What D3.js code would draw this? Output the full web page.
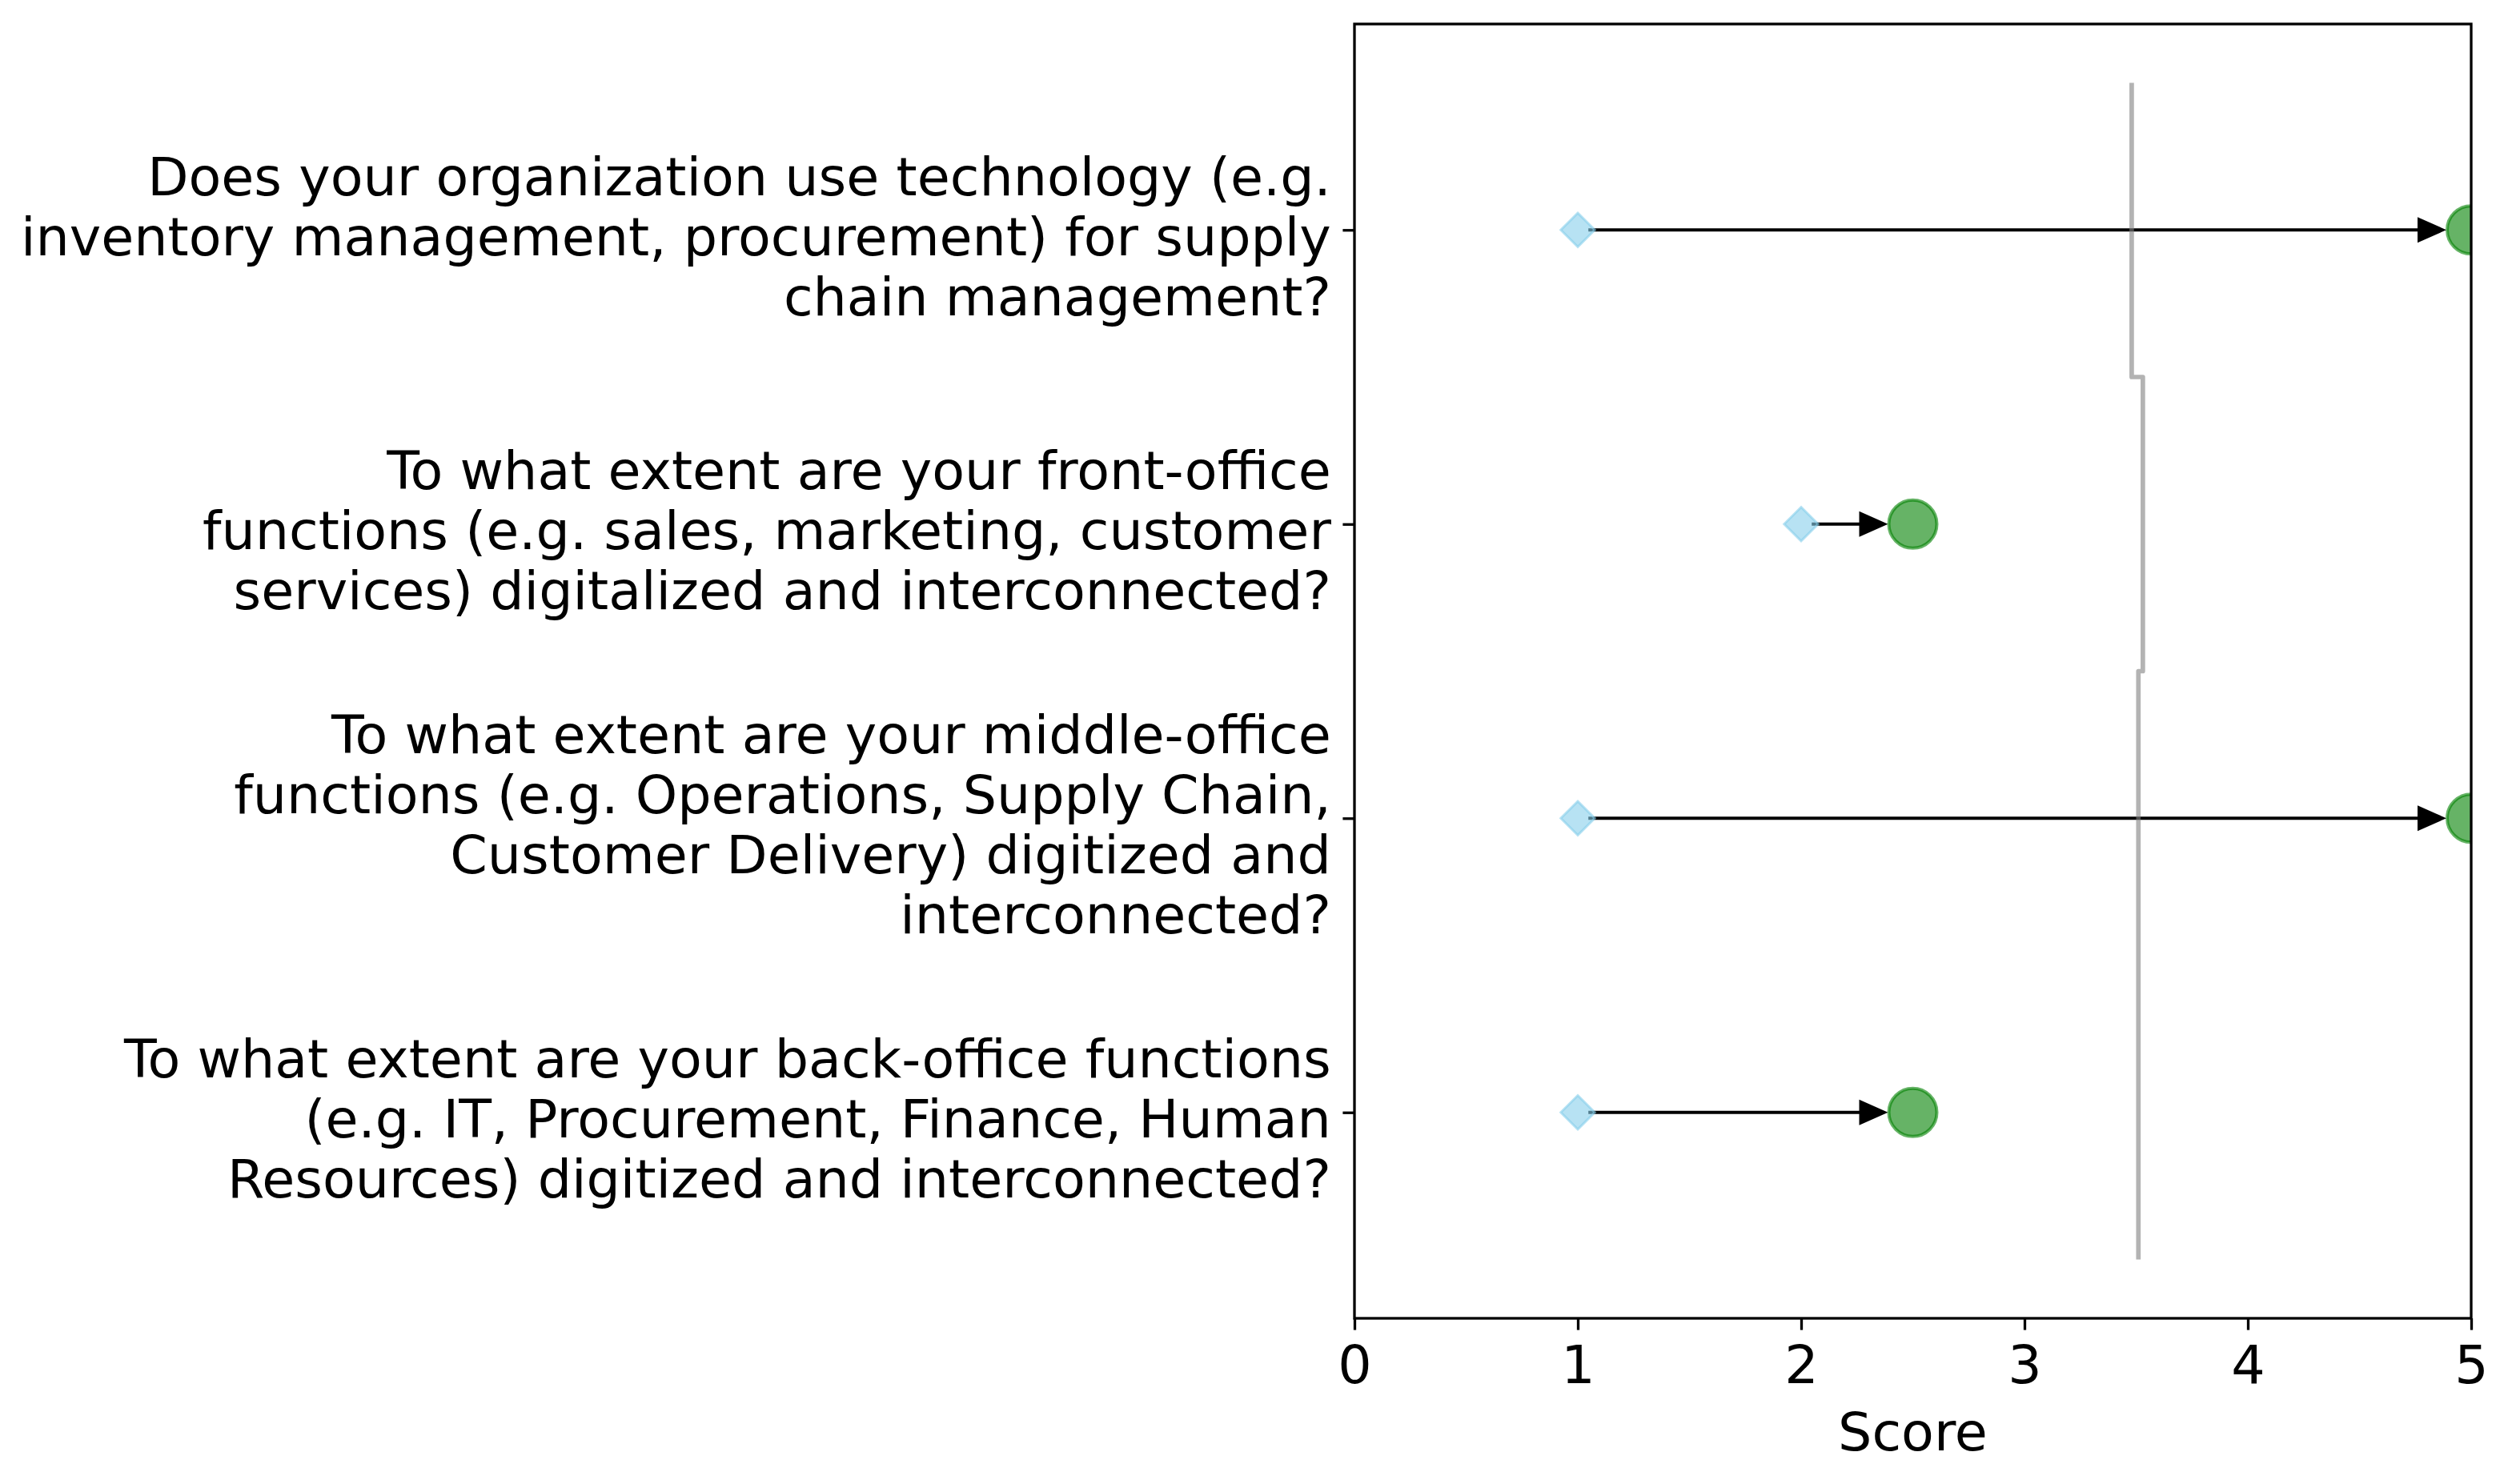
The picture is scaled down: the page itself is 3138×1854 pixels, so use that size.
<!DOCTYPE html>
<html>
<head>
<meta charset="utf-8">
<script src="https://cdn.jsdelivr.net/npm/d3@7"></script>
<style>
  body { margin: 0; background: #fff; }
  text { font-family: "DejaVu Sans", sans-serif; }
</style>
</head>
<body>
<div id="chart"></div>
<script>
// questions (line breaks as in the picture)
const questions = [
  "Does your organization use technology (e.g.\ninventory management, procurement) for supply\nchain management?",
  "To what extent are your front-office\nfunctions (e.g. sales, marketing, customer\nservices) digitalized and interconnected?",
  "To what extent are your middle-office\nfunctions (e.g. Operations, Supply Chain,\nCustomer Delivery) digitized and\ninterconnected?",
  "To what extent are your back-office functions\n(e.g. IT, Procurement, Finance, Human\nResources) digitized and interconnected?"
];
const currentScore = [1, 2, 1, 1];
const targetScore = [5, 2.5, 5, 2.5];
const benchmark = [3.48, 3.53, 3.51, 3.51];
const xTicks = [0, 1, 2, 3, 4, 5];
const xLabel = "Score";

/* Dimensions */
let width = 3138, height = 1854;
let plotLeft = 1692, plotRight = 3087, plotTop = 30, plotBottom = 1647;
let fontSize = 66.7;
let lineStep = 75;
let tickLen = 14.6;

let svg = d3.select('#chart')
  .append('svg')
  .attr('width', width)
  .attr('height', height);

let x = d3.scaleLinear()
  .domain([0, 5])
  .range([plotLeft, plotRight]);

let y = d3.scalePoint()
  .domain(d3.range(questions.length))
  .range([plotTop, plotBottom])
  .padding(0.7);

svg.append('clipPath')
  .attr('id', 'plot-clip')
  .append('rect')
  .attr('x', plotLeft).attr('y', plotTop)
  .attr('width', plotRight - plotLeft).attr('height', plotBottom - plotTop);

let plot = svg.append('g').attr('clip-path', 'url(#plot-clip)');

// arrows from current to target
let diamondHalf = 22, circleR = 31, headLen = 36, headHalf = 16;
let rows = d3.range(questions.length);

plot.selectAll('.arrow-line')
  .data(rows)
  .enter().append('line')
  .attr('x1', i => x(currentScore[i]) + diamondHalf * 0.6)
  .attr('x2', i => x(targetScore[i]) - circleR - headLen + 2)
  .attr('y1', i => y(i))
  .attr('y2', i => y(i))
  .style('stroke', 'black')
  .style('stroke-width', 4);

plot.selectAll('.arrow-head')
  .data(rows)
  .enter().append('path')
  .attr('d', i => {
    let tip = x(targetScore[i]) - circleR;
    let p = d3.path();
    p.moveTo(tip, y(i));
    p.lineTo(tip - headLen, y(i) - headHalf);
    p.lineTo(tip - headLen, y(i) + headHalf);
    p.closePath();
    return p.toString();
  })
  .style('fill', 'black');

// current score diamonds
plot.selectAll('.current')
  .data(rows)
  .enter().append('path')
  .attr('d', d3.symbol().type(d3.symbolSquare).size(900))
  .attr('transform', i => 'translate(' + x(currentScore[i]) + ',' + y(i) + ') rotate(45)')
  .style('fill', '#87ceeb')
  .style('fill-opacity', 0.6)
  .style('stroke', '#87ceeb')
  .style('stroke-opacity', 0.6)
  .style('stroke-width', 3);

// target score circles
plot.selectAll('.target')
  .data(rows)
  .enter().append('circle')
  .attr('cx', i => x(targetScore[i]))
  .attr('cy', i => y(i))
  .attr('r', circleR - 1)
  .style('fill', 'green')
  .style('fill-opacity', 0.6)
  .style('stroke', 'green')
  .style('stroke-opacity', 0.6)
  .style('stroke-width', 4);

// benchmark step line
let stepPts = [];
rows.forEach(i => {
  stepPts.push([x(benchmark[i]), y(i) - y.step() / 2]);
  stepPts.push([x(benchmark[i]), y(i) + y.step() / 2]);
});
plot.append('path')
  .attr('d', d3.line()(stepPts))
  .style('fill', 'none')
  .style('stroke', '#808080')
  .style('stroke-opacity', 0.6)
  .style('stroke-width', 5.7)
  .style('stroke-linejoin', 'round');

// frame
svg.append('rect')
  .attr('x', plotLeft).attr('y', plotTop)
  .attr('width', plotRight - plotLeft).attr('height', plotBottom - plotTop)
  .style('fill', 'none')
  .style('stroke', 'black')
  .style('stroke-width', 3.3);

// x axis
let xAxis = svg.append('g')
  .attr('transform', 'translate(0,' + plotBottom + ')')
  .call(d3.axisBottom(x).tickValues(xTicks).tickFormat(d3.format('d'))
    .tickSize(tickLen).tickSizeOuter(0).tickPadding(19));
xAxis.select('.domain').remove();
xAxis.selectAll('line').style('stroke', 'black').style('stroke-width', 3.3);
xAxis.selectAll('text')
  .style('font-family', '"DejaVu Sans", sans-serif')
  .style('font-size', fontSize + 'px')
  .style('fill', 'black');

svg.append('text')
  .attr('x', (plotLeft + plotRight) / 2)
  .attr('y', 1812)
  .attr('text-anchor', 'middle')
  .style('font-size', fontSize + 'px')
  .text(xLabel);

// y axis with wrapped question labels
let yAxis = svg.append('g')
  .attr('transform', 'translate(' + plotLeft + ',0)')
  .call(d3.axisLeft(y).tickSize(tickLen).tickSizeOuter(0).tickFormat(''));
yAxis.select('.domain').remove();
yAxis.selectAll('line').style('stroke', 'black').style('stroke-width', 3.3);

yAxis.selectAll('.tick').each(function (i) {
  let lines = questions[i].split('\n');
  let t = d3.select(this).select('text')
    .attr('x', -tickLen - 14.6)
    .attr('dy', null)
    .attr('y', null)
    .attr('text-anchor', 'end')
    .style('font-family', '"DejaVu Sans", sans-serif')
    .style('font-size', fontSize + 'px')
    .style('fill', 'black');
  t.text(null);
  lines.forEach((ln, k) => {
    t.append('tspan')
      .attr('x', -tickLen - 14.6)
      .attr('y', 31 + (k - (lines.length - 1) / 2) * lineStep)
      .text(ln);
  });
});
</script>
</body>
</html>
